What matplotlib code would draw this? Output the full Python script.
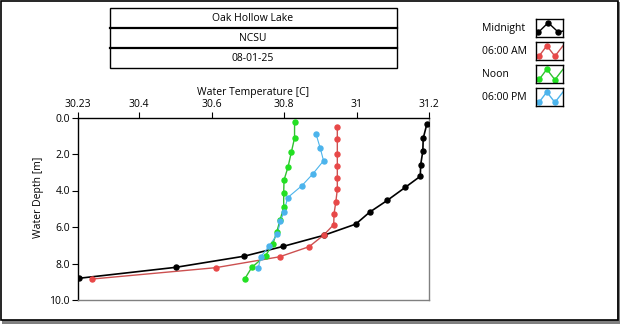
import matplotlib
matplotlib.use('Agg')
import matplotlib.pyplot as plt
import matplotlib.patches as mpatches
import numpy as np

plt.rcParams['font.family'] = ['Open Sans', 'DejaVu Sans']

# profile data (depth in m, temperature in C)
midnight_depth = [0.37, 1.14, 1.84, 2.59, 3.22, 3.82, 4.54, 5.19, 5.84, 6.46, 7.06, 7.60, 8.21, 8.81]
midnight_temp = [31.194, 31.184, 31.183, 31.177, 31.176, 31.135, 31.085, 31.036, 30.998, 30.909,
                 30.798, 30.690, 30.501, 30.234]

am6_depth = [0.50, 1.18, 1.98, 2.64, 3.30, 3.93, 4.61, 5.27, 5.87, 6.45, 7.08, 7.63, 8.23, 8.85]
am6_temp = [30.947, 30.947, 30.947, 30.947, 30.947, 30.947, 30.943, 30.938, 30.937, 30.909,
            30.869, 30.788, 30.611, 30.271]

noon_depth = [0.25, 1.12, 1.91, 2.71, 3.42, 4.12, 4.92, 5.62, 6.26, 6.93, 7.57, 8.21, 8.83]
noon_temp = [30.829, 30.829, 30.820, 30.811, 30.800, 30.799, 30.799, 30.789, 30.780, 30.769,
             30.749, 30.711, 30.692]

pm6_depth = [0.89, 1.69, 2.37, 3.10, 3.74, 4.39, 5.16, 5.69, 6.41, 7.04, 7.63, 8.23]
pm6_temp = [30.888, 30.900, 30.909, 30.879, 30.849, 30.810, 30.800, 30.790, 30.781, 30.759,
            30.736, 30.729]

x_ticks = [30.23, 30.4, 30.6, 30.8, 31.0, 31.2]
x_tick_labels = ['30.23', '30.4', '30.6', '30.8', '31', '31.2']
y_ticks = [0, 2, 4, 6, 8, 10]

header_rows = ['Oak Hollow Lake', 'NCSU', '08-01-25']
series_names = ['Midnight', '06:00 AM', 'Noon', '06:00 PM']
series_colors = ['#000000', '#e84848', '#22e022', '#4cb4ec']
line_colors = ['#000000', '#cc5050', '#30c030', '#4cb4ec']
line_widths = [1.2, 1.0, 1.0, 0.8]

W, H = 620, 324
fig = plt.figure(figsize=(W / 100, H / 100), dpi=100)

# main plot, placed in pixel terms
ax_l, ax_r, ax_t, ax_b = 77.5, 429, 117.5, 300
ax = fig.add_axes([ax_l / W, 1 - ax_b / H, (ax_r - ax_l) / W, (ax_b - ax_t) / H])

profiles = [(midnight_temp, midnight_depth), (am6_temp, am6_depth),
            (noon_temp, noon_depth), (pm6_temp, pm6_depth)]
for (t, d), mc, lc, lw in zip(profiles, series_colors, line_colors, line_widths):
    ax.plot(t, d, color=lc, linewidth=lw, zorder=2)
    ax.plot(t, d, linestyle='none', marker='o', markersize=3.6, color=mc, zorder=3)

ax.set_xlim(30.23, 31.2)
ax.set_ylim(10, 0)
ax.xaxis.tick_top()
ax.xaxis.set_label_position('top')
ax.set_xticks(x_ticks)
ax.set_xticklabels(x_tick_labels)
ax.set_yticks(y_ticks)
ax.set_yticklabels(['%.1f' % v for v in y_ticks])
ax.tick_params(axis='both', labelsize=7.5, length=4, width=0.8, pad=1.5, colors='#000000')
ax.set_xlabel('Water Temperature [C]', fontsize=7.5, labelpad=3)
ax.set_ylabel('Water Depth [m]', fontsize=7.5)
ax.yaxis.set_label_coords(-0.095, 0.56)
for side in ['left', 'top']:
    ax.spines[side].set_color('black')
    ax.spines[side].set_linewidth(1.0)
for side in ['right', 'bottom']:
    ax.spines[side].set_color('#808080')
    ax.spines[side].set_linewidth(1.0)

# overlay in pixel coordinates for the header table, legend text and frame
ov = fig.add_axes([0, 0, 1, 1], facecolor='none')
ov.set_xlim(0, W)
ov.set_ylim(H, 0)
ov.axis('off')

# header table
tbl_l, tbl_r, tbl_t, row_h = 109.5, 396.5, 8, 20
ov.add_patch(mpatches.Rectangle((tbl_l, tbl_t), tbl_r - tbl_l, row_h * 3, fill=False,
                                edgecolor='black', linewidth=1.0))
for i, txt in enumerate(header_rows):
    if i > 0:
        ov.plot([tbl_l, tbl_r], [tbl_t + i * row_h] * 2, color='black', linewidth=1.6)
    ov.text((tbl_l + tbl_r) / 2, tbl_t + i * row_h + row_h / 2 + 0.5, txt, fontsize=7.5,
            ha='center', va='center')

# legend
icon_l, icon_w, icon_h = 536, 27, 18
icon_tops = [19.3, 41.8, 65.3, 88]
for name, top, mc, lc in zip(series_names, icon_tops, series_colors, line_colors):
    ov.text(482, top + icon_h / 2 + 0.5, name, fontsize=7.5, ha='left', va='center')
    iax = fig.add_axes([icon_l / W, 1 - (top + icon_h) / H, icon_w / W, icon_h / H])
    iax.set_xlim(0, 1)
    iax.set_ylim(0, 1)
    iax.set_xticks([])
    iax.set_yticks([])
    for s in iax.spines.values():
        s.set_linewidth(1.0)
        s.set_color('black')
    if name == 'Midnight':
        zx, zy = [0.0, 0.09, 0.45, 0.83, 1.0], [0.08, 0.28, 0.81, 0.28, 0.35]
        mx, my = [0.09, 0.45, 0.83], [0.28, 0.81, 0.28]
    else:
        zx, zy = [0.0, 0.12, 0.4, 0.7, 1.0], [0.05, 0.22, 0.78, 0.2, 0.78]
        mx, my = [0.12, 0.4, 0.7], [0.22, 0.78, 0.2]
    iax.plot(zx, zy, color=lc, linewidth=1.0)
    iax.plot(mx, my, linestyle='none', marker='o', markersize=3.6, color=mc)

# outer frame with grey shadow on the right and bottom
ov.add_patch(mpatches.Rectangle((617, 2), 3, H, color='#808080', linewidth=0))
ov.add_patch(mpatches.Rectangle((2, 320), W, 4, color='#808080', linewidth=0))
ov.add_patch(mpatches.Rectangle((0.5, 0.5), 617, 319.5, fill=False, edgecolor='black',
                                linewidth=1.2))

fig.savefig('out.png', dpi=100)
